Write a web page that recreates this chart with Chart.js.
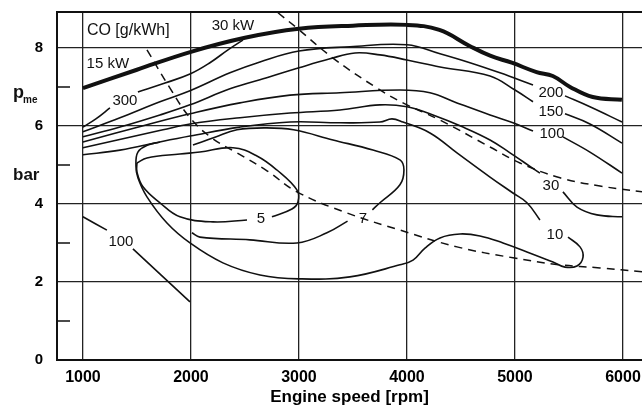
<!DOCTYPE html>
<html>
<head>
<meta charset="utf-8">
<script src="https://cdn.jsdelivr.net/npm/chart.js@4.4.1/dist/chart.umd.min.js"></script>
<style>
  html, body { margin: 0; padding: 0; background: #fff; }
  #wrap { width: 642px; height: 409px; }
</style>
</head>
<body>
<div id="wrap"><canvas id="coChart"></canvas></div>
<script>
// axis ticks
const xTicks = [1000, 2000, 3000, 4000, 5000, 6000]
const yTicks = [0, 1, 2, 3, 4, 5, 6, 7, 8]
const yLabelled = [0, 2, 4, 6, 8]

// [rpm, bar]
const fullLoad = [[1000, 6.97], [1500, 7.44], [2000, 7.9], [2500, 8.26], [3000, 8.49], [3500, 8.57], [4000, 8.59], [4300, 8.46], [4580, 8.05], [4770, 7.8], [4970, 7.62], [5200, 7.38], [5350, 7.28], [5510, 7.0], [5720, 6.74], [5990, 6.67]]

const co300Left = [[1000, 5.97], [1120, 6.18], [1250, 6.46]]
const co300Right = [[1509, 6.87], [1760, 7.1], [1991, 7.33], [2176, 7.62], [2343, 7.95], [2481, 8.2]]

const co200Left = [[1000, 5.85], [1343, 6.21], [1713, 6.62], [1991, 6.9], [2361, 7.36], [2639, 7.64], [3000, 7.92], [3472, 8.03], [4000, 8.08], [4306, 7.85], [4583, 7.62], [4861, 7.36], [5167, 7.05]]
const co200Right = [[5463, 6.77], [5694, 6.49], [5991, 6.1]]

const co150Left = [[1000, 5.72], [1343, 5.97], [1713, 6.28], [1991, 6.54], [2361, 6.95], [2731, 7.26], [3000, 7.49], [3287, 7.72], [3519, 7.87], [3750, 7.82], [4000, 7.69], [4306, 7.51], [4769, 7.28], [5000, 6.92], [5167, 6.62]]
const co150Right = [[5463, 6.31], [5694, 6.05], [5991, 5.56]]

const co100Left = [[1000, 5.59], [1593, 6.03], [1991, 6.31], [2454, 6.59], [2917, 6.79], [3380, 6.85], [3935, 6.92], [4213, 6.85], [4463, 6.59], [4769, 6.28], [4981, 6.08], [5167, 5.87]]
const co100Right = [[5444, 5.72], [5694, 5.33], [5991, 4.79]]

const co30Left = [[1000, 5.44], [1741, 5.9], [1991, 6.05], [2454, 6.21], [2917, 6.33], [3380, 6.41], [3750, 6.54], [4000, 6.49], [4241, 6.28], [4519, 5.97], [4769, 5.64], [4954, 5.31], [5093, 5.05], [5231, 4.79]]
const co30Right = [[5444, 4.31], [5574, 3.92], [5759, 3.72], [5991, 3.67]]

const co10Top = [[1000, 5.26], [1343, 5.38], [1713, 5.59], [1991, 5.74], [2454, 5.97], [2917, 6.1], [3380, 6.08], [3750, 6.1], [3861, 6.18], [3963, 6.1], [4213, 5.82], [4463, 5.31], [4769, 4.69], [4981, 4.28], [5111, 4.03], [5231, 3.59]]
const co10Loop = [[5491, 3.15], [5602, 2.9], [5630, 2.64], [5574, 2.41], [5463, 2.38], [5352, 2.51], [5111, 2.77], [4889, 3.0], [4676, 3.18], [4491, 3.23], [4306, 3.13], [4167, 2.87], [4056, 2.56], [3935, 2.44], [3472, 2.13], [3000, 2.08], [2639, 2.18], [2296, 2.49], [1991, 3.0], [1778, 3.51], [1593, 4.18], [1509, 4.67], [1491, 4.97], [1509, 5.33], [1602, 5.51], [1713, 5.59]]

const co7Top = [[2019, 5.51], [2222, 5.71], [2426, 5.9], [2700, 5.95], [2950, 5.9], [3315, 5.64], [3685, 5.38], [3935, 5.13], [3972, 4.87], [3935, 4.49], [3750, 4.03], [3680, 3.85]]
const co7Bottom = [[3450, 3.56], [3259, 3.26], [2981, 3.0], [2546, 3.08], [2083, 3.15], [2009, 3.26]]

const co5Top = [[1500, 5.05], [1593, 5.18], [1898, 5.28], [2083, 5.33], [2389, 5.44], [2611, 5.23], [2796, 4.87], [2981, 4.36], [2991, 4.05], [2935, 3.87], [2750, 3.67]]
const co5Bottom = [[2519, 3.59], [2204, 3.54], [1898, 3.67], [1713, 4.03], [1556, 4.44], [1500, 4.82], [1500, 5.05]]

const co100LowLeft = [[1000, 3.67], [1222, 3.33]]
const co100LowRight = [[1463, 2.85], [1991, 1.49]]

const dashedLow = [[1593, 7.95], [1806, 6.97], [1991, 6.21], [2194, 5.69], [2426, 5.31], [2704, 4.85], [2981, 4.31], [3444, 3.77], [3935, 3.33], [4463, 2.9], [4981, 2.62], [5417, 2.44], [5787, 2.36], [6176, 2.26]]
const dashedHigh = [[2806, 8.9], [2981, 8.51], [3315, 7.74], [3722, 6.97], [3963, 6.59], [4306, 6.15], [4769, 5.46], [5046, 5.05], [5417, 4.67], [5787, 4.46], [6176, 4.31]]

// text on the map, placed in rpm / bar
const curveLabels = [
    { text: '300', x: 1389, y: 6.64 },
    { text: '200', x: 5333, y: 6.86 },
    { text: '150', x: 5333, y: 6.37 },
    { text: '100', x: 5343, y: 5.79 },
    { text: '30', x: 5333, y: 4.46 },
    { text: '10', x: 5370, y: 3.21 },
    { text: '7', x: 3593, y: 3.62 },
    { text: '5', x: 2648, y: 3.62 },
    { text: '100', x: 1352, y: 3.03 },
    { text: '15 kW', x: 1231, y: 7.59 },
    { text: '30 kW', x: 2389, y: 8.56 },
]
const mapTitle = { text: 'CO [g/kWh]', x: 1037, y: 8.44 }

const toPoints = pairs => pairs.map(([x, y]) => ({ x, y }))

const curve = (pairs, width = 1.6, dash = []) => ({
    data: toPoints(pairs),
    showLine: true,
    borderColor: '#111',
    borderWidth: width,
    borderDash: dash,
    pointRadius: 0,
    tension: 0.4,
    fill: false,
})

const FONT = '"Liberation Sans", Arial, sans-serif'

const frame = {
    id: 'frame',
    afterDatasetsDraw(chart) {
        const { ctx, chartArea: a, scales: { x, y } } = chart
        ctx.save()
        ctx.strokeStyle = '#111'
        ctx.lineWidth = 2
        ctx.beginPath()
        ctx.moveTo(a.right + 2, a.top)
        ctx.lineTo(a.left, a.top)
        ctx.lineTo(a.left, a.bottom)
        ctx.lineTo(a.right + 2, a.bottom)
        ctx.stroke()

        // short marks at the odd bar values
        ctx.lineWidth = 1.5
        ctx.beginPath()
        for (const v of yTicks.filter(t => !yLabelled.includes(t))) {
            const py = y.getPixelForValue(v)
            ctx.moveTo(a.left, py)
            ctx.lineTo(a.left + 13, py)
        }
        ctx.stroke()

        // labels on the curves
        ctx.fillStyle = '#111'
        ctx.font = '15px ' + FONT
        ctx.textAlign = 'center'
        ctx.textBaseline = 'middle'
        for (const l of curveLabels) {
            ctx.fillText(l.text, x.getPixelForValue(l.x), y.getPixelForValue(l.y))
        }
        ctx.font = '16px ' + FONT
        ctx.textAlign = 'left'
        ctx.fillText(mapTitle.text, x.getPixelForValue(mapTitle.x), y.getPixelForValue(mapTitle.y))

        // y axis name: p_me / bar
        ctx.textBaseline = 'alphabetic'
        ctx.font = 'bold 18px ' + FONT
        ctx.fillText('p', 13, y.getPixelForValue(6.72))
        ctx.font = 'bold 10px ' + FONT
        ctx.fillText('me', 23, y.getPixelForValue(6.6))
        ctx.font = 'bold 17px ' + FONT
        ctx.fillText('bar', 13, y.getPixelForValue(4.62))
        ctx.restore()
    }
}

const ctx = document.getElementById('coChart').getContext('2d')

new Chart(ctx, {
    type: 'scatter',
    data: {
        datasets: [
            curve(fullLoad, 4),
            curve(co300Left), curve(co300Right),
            curve(co200Left), curve(co200Right),
            curve(co150Left), curve(co150Right),
            curve(co100Left), curve(co100Right),
            curve(co30Left), curve(co30Right),
            curve(co10Top), curve(co10Loop),
            curve(co7Top), curve(co7Bottom),
            curve(co5Top), curve(co5Bottom),
            curve(co100LowLeft), curve(co100LowRight),
            curve(dashedLow, 1.5, [8, 6]),
            curve(dashedHigh, 1.5, [8, 6]),
        ]
    },
    options: {
        responsive: true,
        maintainAspectRatio: false,
        animation: false,
        layout: { padding: { top: 12, right: 0, left: 0, bottom: 0 } },
        plugins: {
            legend: { display: false },
            tooltip: { enabled: false },
        },
        scales: {
            x: {
                type: 'linear',
                min: 760,
                max: 6176,
                afterBuildTicks: scale => { scale.ticks = xTicks.map(v => ({ value: v })) },
                afterFit: scale => {
                    scale.height = 49
                    scale.paddingLeft = 0
                    scale.paddingRight = 0
                },
                grid: { color: '#222', lineWidth: 1.3, drawTicks: false },
                border: { display: false },
                ticks: {
                    color: '#000',
                    padding: 8,
                    maxRotation: 0,
                    callback: v => String(v),
                    font: { family: FONT, size: 16, weight: 'bold' },
                },
                title: {
                    display: true,
                    text: 'Engine speed [rpm]',
                    color: '#000',
                    padding: { top: 0, bottom: 1 },
                    font: { family: FONT, size: 17, weight: 'bold' },
                },
            },
            y: {
                type: 'linear',
                min: 0,
                max: 8.92,
                afterBuildTicks: scale => { scale.ticks = yTicks.map(v => ({ value: v })) },
                afterFit: scale => {
                    scale.width = 57
                    scale.paddingTop = 0
                    scale.paddingBottom = 0
                },
                grid: {
                    drawTicks: false,
                    lineWidth: 1.3,
                    color: c => (c.tick && yLabelled.includes(c.tick.value) && c.tick.value > 0) ? '#222' : 'rgba(0,0,0,0)',
                },
                border: { display: false },
                ticks: {
                    color: '#000',
                    padding: 14,
                    callback: v => yLabelled.includes(v) ? String(v) : '',
                    font: { family: FONT, size: 15, weight: 'bold' },
                },
            },
        },
    },
    plugins: [frame],
})
</script>
</body>
</html>
